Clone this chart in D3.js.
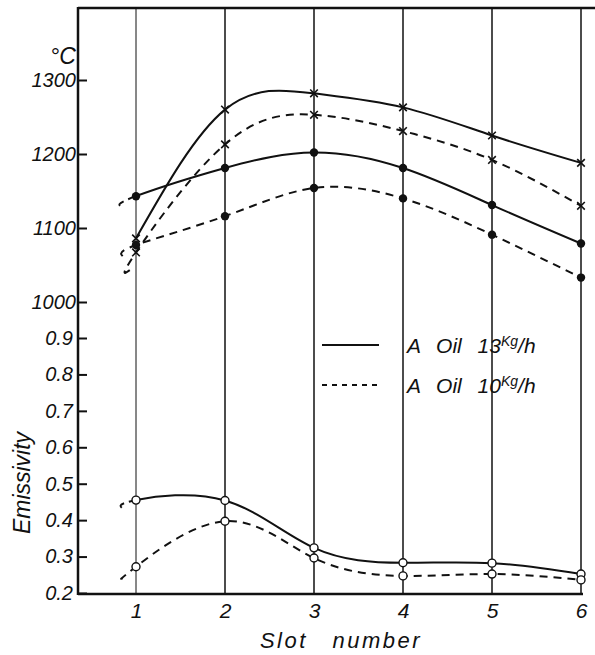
<!DOCTYPE html>
<html>
<head>
<meta charset="utf-8">
<script src="https://cdn.jsdelivr.net/npm/d3@7"></script>
<style>
  body { margin: 0; background: #fff; }
  text { font-family: "Liberation Sans Narrow", "Liberation Sans", sans-serif; font-style: italic; fill: #111; }
</style>
</head>
<body>
<script>
const slots = [1, 2, 3, 4, 5, 6];
// gas temperature (x marks) and wall temperature (dots), deg C
const tempX13 = [1086, 1260, 1282, 1263, 1225, 1188];
const tempX10 = [1067, 1213, 1253, 1231, 1192, 1130];
const tempDot13 = [1143, 1181, 1202, 1181, 1131, 1079];
const tempDot10 = [1077, 1116, 1154, 1140, 1091, 1033];
// emissivity (open circles)
const emis13 = [0.455, 0.454, 0.324, 0.283, 0.282, 0.252];
const emis10 = [0.272, 0.397, 0.296, 0.247, 0.252, 0.236];
// where curves start left of slot 1 [slot, value]
const leadX10 = [0.93, 1043];
const leadDot13 = [0.82, 1130];
const leadDot10 = [0.85, 1062];
const leadEmis13 = [0.84, 0.434];
const leadEmis10 = [0.85, 0.241];

const tempTicks = [1000, 1100, 1200, 1300];
const emisTicks = [0.2, 0.3, 0.4, 0.5, 0.6, 0.7, 0.8, 0.9];
const legendLabels = ["13", "10"];

const W = 595, H = 655;
const frameL = 78, frameT = 8, frameB = 594, frameR = 595;

const svg = d3.select("body").append("svg")
  .attr("width", W).attr("height", H);

const x = d3.scaleLinear().domain([1, 6]).range([136, 581]);
const yT = d3.scaleLinear().domain([1000, 1300]).range([302, 80]);
const yE = d3.scaleLinear().domain([0.2, 0.9]).range([593, 338]);

// clip regions: right of slot 1 drawn as given, left of it dashed
const defs = svg.append("defs");
defs.append("clipPath").attr("id", "after")
  .append("rect").attr("x", x(1)).attr("y", 0).attr("width", W).attr("height", H);
defs.append("clipPath").attr("id", "before")
  .append("rect").attr("x", 0).attr("y", 0).attr("width", x(1)).attr("height", H);

// vertical slot lines
svg.selectAll(".grid")
  .data(slots)
  .enter().append("line")
  .attr("x1", d => x(d)).attr("x2", d => x(d))
  .attr("y1", frameT).attr("y2", frameB)
  .attr("stroke", "#111")
  .attr("stroke-width", d => d === 1 ? 1 : 1.5);

// frame
svg.append("line").attr("x1", frameL).attr("x2", frameL).attr("y1", frameT - 1).attr("y2", frameB + 1)
  .attr("stroke", "#111").attr("stroke-width", 2.5);
svg.append("line").attr("x1", frameL).attr("x2", frameR).attr("y1", frameT).attr("y2", frameT)
  .attr("stroke", "#111").attr("stroke-width", 2.5);
svg.append("line").attr("x1", frameL).attr("x2", 583).attr("y1", frameB).attr("y2", frameB)
  .attr("stroke", "#111").attr("stroke-width", 2.5);

// y axes (ticks point inward)
const axT = svg.append("g").attr("transform", `translate(${frameL},0)`)
  .call(d3.axisLeft(yT).tickValues(tempTicks).tickFormat(d3.format("d"))
    .tickSizeInner(-9).tickSizeOuter(0).tickPadding(2));
const axE = svg.append("g").attr("transform", `translate(${frameL},0)`)
  .call(d3.axisLeft(yE).tickValues(emisTicks).tickFormat(d3.format(".1f"))
    .tickSizeInner(-9).tickSizeOuter(0).tickPadding(5));
[axT, axE].forEach(g => {
  g.select(".domain").remove();
  g.selectAll(".tick line").attr("stroke", "#111").attr("stroke-width", 2);
  g.selectAll(".tick text").attr("font-size", 20).attr("font-family", null).attr("fill", null);
});

// x axis
const axX = svg.append("g").attr("transform", `translate(0,${frameB})`)
  .call(d3.axisBottom(x).tickValues(slots).tickFormat(d3.format("d")).tickSize(0).tickPadding(9));
axX.select(".domain").remove();
axX.selectAll(".tick text").attr("font-size", 21).attr("font-family", null).attr("fill", null);

svg.append("text").attr("x", 50).attr("y", 64).attr("font-size", 23).text("°C");
svg.append("text")
  .attr("transform", "translate(30,483) rotate(-90)")
  .attr("text-anchor", "middle").attr("font-size", 23)
  .text("Emissivity");
svg.append("text").attr("x", 341).attr("y", 648).attr("text-anchor", "middle")
  .attr("font-size", 22).attr("letter-spacing", 2.5).attr("word-spacing", 16)
  .text("Slot number");

// curves
function pts(vals, lead) {
  const p = slots.map((s, i) => [s, vals[i]]);
  return lead ? [lead].concat(p) : p;
}
const lineT = d3.line().x(d => x(d[0])).y(d => yT(d[1])).curve(d3.curveNatural);
const lineE = d3.line().x(d => x(d[0])).y(d => yE(d[1])).curve(d3.curveNatural);

const series = [
  { p: pts(tempX13), line: lineT, solid: true },
  { p: pts(tempX10, leadX10), line: lineT, solid: false },
  { p: pts(tempDot13, leadDot13), line: lineT, solid: true },
  { p: pts(tempDot10, leadDot10), line: lineT, solid: false },
  { p: pts(emis13, leadEmis13), line: lineE, solid: true },
  { p: pts(emis10, leadEmis10), line: lineE, solid: false }
];

series.forEach(s => {
  const d = s.line(s.p);
  if (s.solid) {
    svg.append("path").attr("d", d).attr("clip-path", "url(#after)")
      .attr("fill", "none").attr("stroke", "#111").attr("stroke-width", 2);
    svg.append("path").attr("d", d).attr("clip-path", "url(#before)")
      .attr("fill", "none").attr("stroke", "#111").attr("stroke-width", 2)
      .attr("stroke-dasharray", "7,5");
  } else {
    svg.append("path").attr("d", d)
      .attr("fill", "none").attr("stroke", "#111").attr("stroke-width", 2)
      .attr("stroke-dasharray", "8,6");
  }
});

// markers
function crosses(vals) {
  svg.selectAll(null).data(vals).enter().append("path")
    .attr("d", (v, i) => {
      const cx = x(slots[i]), cy = yT(v), r = 3.8;
      return `M${cx - r},${cy - r}L${cx + r},${cy + r}M${cx - r},${cy + r}L${cx + r},${cy - r}`;
    })
    .attr("stroke", "#111").attr("stroke-width", 1.6);
}
crosses(tempX13);
crosses(tempX10);
[tempDot13, tempDot10].forEach(vals => {
  svg.selectAll(null).data(vals).enter().append("circle")
    .attr("cx", (v, i) => x(slots[i])).attr("cy", v => yT(v))
    .attr("r", 4.2).attr("fill", "#111");
});
[emis13, emis10].forEach(vals => {
  svg.selectAll(null).data(vals).enter().append("circle")
    .attr("cx", (v, i) => x(slots[i])).attr("cy", v => yE(v))
    .attr("r", 4).attr("fill", "#fff").attr("stroke", "#111").attr("stroke-width", 1.4);
});

// legend
const leg = svg.append("g");
legendLabels.forEach((lab, i) => {
  const ly = 345 + i * 40;
  leg.append("line").attr("x1", 322).attr("x2", 379).attr("y1", ly).attr("y2", ly)
    .attr("stroke", "#111").attr("stroke-width", 1.8)
    .attr("stroke-dasharray", i === 0 ? null : "5,5");
  const t = leg.append("text").attr("x", 407).attr("y", ly + 8).attr("font-size", 21)
    .attr("word-spacing", 10);
  t.append("tspan").text("A Oil " + lab);
  t.append("tspan").attr("font-size", 14).attr("dy", -7).text("Kg");
  t.append("tspan").attr("dy", 7).text("/h");
});
</script>
</body>
</html>
